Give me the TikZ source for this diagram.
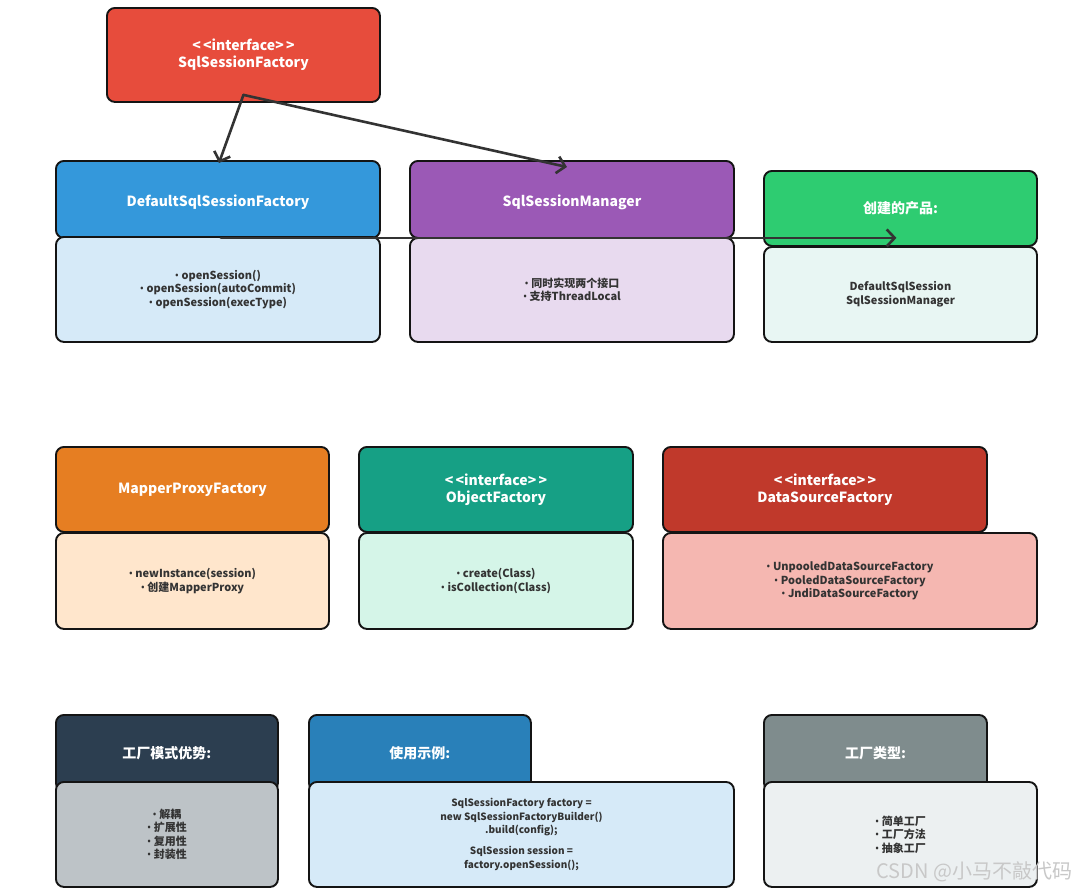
\documentclass[tikz,border=0pt]{standalone}
\usepackage{fontspec}
\setmainfont{Noto Sans CJK SC}
\newfontfamily\bulfont{Noto Sans}
\newcommand\bu{{\bulfont •}\ }
\newcommand\iface{\textless\,\textless interface\textgreater\,\textgreater}
\usetikzlibrary{arrows.meta,calc}
\definecolor{cRed}{HTML}{E74C3C}
\definecolor{cBlue}{HTML}{3498DB}
\definecolor{cBlueL}{HTML}{D6EAF8}
\definecolor{cPurple}{HTML}{9B59B6}
\definecolor{cPurpleL}{HTML}{E8DAEF}
\definecolor{cGreen}{HTML}{2ECC71}
\definecolor{cGreenL}{HTML}{E8F6F3}
\definecolor{cOrange}{HTML}{E67E22}
\definecolor{cOrangeL}{HTML}{FFE6CC}
\definecolor{cTeal}{HTML}{16A085}
\definecolor{cTealL}{HTML}{D5F5E8}
\definecolor{cDRed}{HTML}{C0392B}
\definecolor{cDRedL}{HTML}{F5B7B1}
\definecolor{cNavy}{HTML}{2C3E50}
\definecolor{cSilver}{HTML}{BDC3C7}
\definecolor{cBlue2}{HTML}{2980B9}
\definecolor{cGray}{HTML}{7F8C8D}
\definecolor{cGrayL}{HTML}{ECF0F1}
\definecolor{txt}{HTML}{333333}
\definecolor{arrowc}{HTML}{333333}
\definecolor{wm}{HTML}{C8C8C8}
\begin{document}
\begin{tikzpicture}[x=1pt,y=-1pt,
  box/.style={draw=black!92, line width=1.9pt, rounded corners=8pt, anchor=north west,
    inner sep=0pt, align=center},
  head/.style={box, text=white, font=\bfseries\fontsize{14}{17}\selectfont},
  lowhead/.style={head, text height=18pt, text depth=3pt},
  bodyb/.style={box, text=txt, font=\bfseries\fontsize{11}{13.5}\selectfont},
  conn/.style={draw=arrowc, line width=2.6pt, line cap=round,
    -{Straight Barb[length=8pt,width=17pt,line width=2.6pt]}}]
\useasboundingbox (0,0) rectangle (1079,889);
\fill[white] (0,0) rectangle (1079,889);

% row 1
\node[head, fill=cRed, minimum width=273pt, minimum height=94pt] (ssf) at (106,7)
  {\iface\\SqlSessionFactory};

\node[lowhead, fill=cBlue, minimum width=324pt, minimum height=77pt] (dsf) at (55,160)
  {DefaultSqlSessionFactory};
\node[bodyb, fill=cBlueL, minimum width=324pt, minimum height=105pt] (dsfb) at (55,236)
  {\bu openSession()\\\bu openSession(autoCommit)\\\bu openSession(execType)};

\node[lowhead, fill=cPurple, minimum width=324pt, minimum height=77pt] (ssm) at (409,160)
  {SqlSessionManager};
\node[bodyb, fill=cPurpleL, minimum width=324pt, minimum height=104pt] (ssmb) at (409,237)
  {\bu 同时实现两个接口\\\bu 支持ThreadLocal};

\node[head, fill=cGreen, minimum width=273pt, minimum height=75pt] (prod) at (763,170)
  {创建的产品:};
\node[bodyb, fill=cGreenL, minimum width=273pt, minimum height=95pt] (prodb) at (763,246)
  {DefaultSqlSession\\SqlSessionManager};

% row 2
\node[head, fill=cOrange, minimum width=273pt, minimum height=85pt] (mpf) at (55,446)
  {MapperProxyFactory};
\node[bodyb, fill=cOrangeL, minimum width=273pt, minimum height=96pt] (mpfb) at (55,532)
  {\bu newInstance(session)\\\bu 创建MapperProxy};

\node[head, fill=cTeal, minimum width=274pt, minimum height=85pt] (of) at (358,446)
  {\iface\\ObjectFactory};
\node[bodyb, fill=cTealL, minimum width=274pt, minimum height=96pt] (ofb) at (358,532)
  {\bu create(Class)\\\bu isCollection(Class)};

\node[head, fill=cDRed, minimum width=324pt, minimum height=85pt] (dsrc) at (662,446)
  {\iface\\DataSourceFactory};
\node[bodyb, fill=cDRedL, minimum width=374pt, minimum height=96pt] (dsrcb) at (662,532)
  {\bu UnpooledDataSourceFactory\\\bu PooledDataSourceFactory\\\bu JndiDataSourceFactory};

% row 3
\node[head, fill=cNavy, minimum width=222pt, minimum height=76pt] (adv) at (55,714)
  {工厂模式优势:};
\node[bodyb, fill=cSilver, minimum width=222pt, minimum height=105pt] (advb) at (55,781)
  {\bu 解耦\\\bu 扩展性\\\bu 复用性\\\bu 封装性};

\node[head, fill=cBlue2, minimum width=222pt, minimum height=76pt] (ex) at (308,714)
  {使用示例:};
\node[bodyb, fill=cBlueL, minimum width=425pt, minimum height=105pt,
  font=\bfseries\fontsize{10}{13.3}\selectfont] (exb) at (308,781)
  {SqlSessionFactory factory =\\new SqlSessionFactoryBuilder()\\.build(config);\\[8pt]SqlSession session =\\factory.openSession();};

\node[head, fill=cGray, minimum width=223pt, minimum height=76pt] (typ) at (763,714)
  {工厂类型:};
\node[bodyb, fill=cGrayL, minimum width=273pt, minimum height=105pt] (typb) at (763,781)
  {\bu 简单工厂\\\bu 工厂方法\\\bu 抽象工厂};

% connectors
\coordinate (ssfout) at ([yshift=8pt]ssf.south);
\draw[conn] (ssfout) -- ([xshift=1pt,yshift=-3pt]dsf.north);
\draw[conn] (ssfout) -- ([xshift=-5pt,yshift=-7pt]ssm.north);
\draw[conn] ([xshift=3pt,yshift=1pt]dsf.south) -- ([xshift=-4pt,yshift=9pt]prod.south);

% watermark
\node[text=wm, font=\fontsize{20}{22}\selectfont, anchor=east] (wmk) at (1076,872)
  {CSDN @小马不敲代码};
\end{tikzpicture}
\end{document}
